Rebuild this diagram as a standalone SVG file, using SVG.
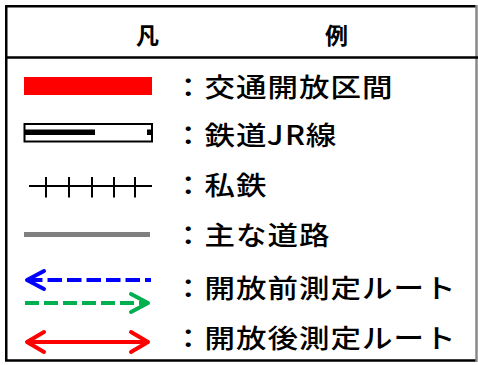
<svg xmlns="http://www.w3.org/2000/svg" width="478" height="365" viewBox="0 0 478 365">
  <style>
    .hdr { font-family: "Noto Sans CJK JP", "Noto Sans", sans-serif; font-size: 23px; font-weight: 700; fill: #000; }
    .lbl { font-family: "Noto Sans CJK JP", "Noto Sans", sans-serif; font-size: 26.5px; font-weight: 500; fill: #000; letter-spacing: 0.9px; }
    .frame { stroke: #000; stroke-width: 2.5; fill: none; }
    .head { fill: none; stroke-width: 4; stroke-linecap: round; stroke-linejoin: round; }
  </style>
  <rect x="0" y="0" width="478" height="365" fill="#fff"/>
  <g id="frame">
    <path class="frame" d="M476.5 6.25 H6.25 V360.5 H476.5"/>
    <line x1="476.5" y1="5" x2="476.5" y2="362" stroke="#888" stroke-width="2.5"/>
    <line class="frame" x1="5" y1="57.5" x2="478" y2="57.5"/>
  </g>
  <g id="header">
    <text class="hdr" x="147.5" y="43.5" text-anchor="middle">凡</text>
    <text class="hdr" x="336.5" y="43.5" text-anchor="middle">例</text>
  </g>
  <g id="connectors">
    <g id="item-open-section">
      <rect x="24" y="77" width="128" height="18" fill="#ff0000"/>
    </g>
    <g id="item-jr">
      <rect x="24.5" y="124" width="127.5" height="17.5" fill="#fff" stroke="#000" stroke-width="2"/>
      <rect x="25" y="129.5" width="70" height="5.5" fill="#000"/>
      <rect x="147" y="129.5" width="4.5" height="5.5" fill="#000"/>
    </g>
    <g id="item-private" stroke="#000" stroke-width="2">
      <line x1="29" y1="186" x2="152" y2="186"/>
      <line x1="46" y1="177" x2="46" y2="197.5"/>
      <line x1="69" y1="177" x2="69" y2="197.5"/>
      <line x1="92" y1="177" x2="92" y2="197.5"/>
      <line x1="114" y1="177" x2="114" y2="197.5"/>
      <line x1="135" y1="177" x2="135" y2="197.5"/>
    </g>
    <g id="item-road">
      <line x1="24" y1="234.5" x2="150" y2="234.5" stroke="#808080" stroke-width="5"/>
    </g>
    <g id="item-before">
      <line x1="28" y1="280" x2="151" y2="280" stroke="#0000ff" stroke-width="4" stroke-dasharray="14.5 5"/>
      <path class="head" stroke="#0000ff" d="M44 271 L27 280 L44 289"/>
    </g>
    <g id="item-before-green">
      <line x1="25" y1="303" x2="148" y2="303" stroke="#00b050" stroke-width="4" stroke-dasharray="14 5"/>
      <path class="head" stroke="#00b050" d="M131 294 L148 303 L131 312"/>
    </g>
    <g id="item-after">
      <line x1="28" y1="342" x2="148" y2="342" stroke="#ff0000" stroke-width="4"/>
      <path class="head" stroke="#ff0000" d="M44 332 L27 342 L44 352"/>
      <path class="head" stroke="#ff0000" d="M131 332 L148 342 L131 352"/>
    </g>
  </g>
  <g id="labels" transform="translate(173,0) scale(1.15,1)">
    <text class="lbl" x="0" y="97">：交通開放区間</text>
    <text class="lbl" x="0 27.4 54.8 81.5 97.5 115.5" y="145.5">：鉄道JR線</text>
    <text class="lbl" x="0" y="195.5">：私鉄</text>
    <text class="lbl" x="0" y="245.5">：主な道路</text>
    <text class="lbl" x="0" y="298">：開放前測定ルート</text>
    <text class="lbl" x="0" y="348.5">：開放後測定ルート</text>
  </g>
</svg>
